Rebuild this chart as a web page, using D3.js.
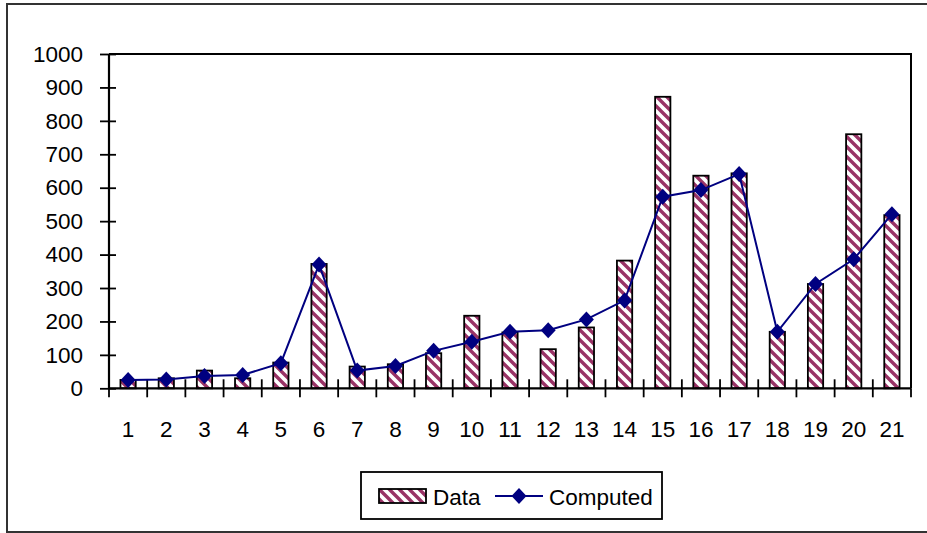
<!DOCTYPE html>
<html>
<head>
<meta charset="utf-8">
<script src="https://cdn.jsdelivr.net/npm/d3@7"></script>
<style>
  html, body { margin: 0; padding: 0; background: #fff; }
  svg { display: block; }
  text { font-family: "Liberation Sans", Arial, sans-serif; fill: #000; }
</style>
</head>
<body>
<svg id="chart" width="927" height="533"></svg>
<script>
// Observed values per sample and the model's computed values
const categories = ["1","2","3","4","5","6","7","8","9","10","11","12","13","14","15","16","17","18","19","20","21"];
const dataValues = [25, 30, 53, 30, 77, 372, 65, 72, 105, 217, 167, 117, 182, 382, 872, 636, 643, 169, 312, 760, 518];
const computedValues = [25, 26, 37, 40, 75, 370, 53, 67, 112, 139, 169, 174, 206, 263, 573, 593, 641, 169, 312, 386, 521];
const yTicks = [0, 100, 200, 300, 400, 500, 600, 700, 800, 900, 1000];
const seriesNames = ["Data", "Computed"];

const svg = d3.select("#chart");
const W = 927, H = 533;
const plot = { left: 109, right: 911, top: 54, bottom: 388.3 };
const fontSize = 22.5;

// Diagonal stripe fill for the bars
const defs = svg.append("defs");
const pat = defs.append("pattern")
  .attr("id", "stripes")
  .attr("patternUnits", "userSpaceOnUse")
  .attr("width", 10).attr("height", 10);
pat.append("rect").attr("width", 10).attr("height", 10).attr("fill", "#fff");
pat.append("path")
  .attr("d", "M-2,-2 L12,12 M-2,8 L2,12 M8,-2 L12,2")
  .attr("stroke", "#993366").attr("stroke-width", 3.4).attr("fill", "none");

// Outer chart frame
svg.append("rect")
  .attr("x", 7).attr("y", 4).attr("width", W + 10).attr("height", 528)
  .attr("fill", "#fff").attr("stroke", "#333").attr("stroke-width", 2);

const x = d3.scaleBand().domain(categories).range([plot.left, plot.right]).paddingInner(0).paddingOuter(0);
const y = d3.scaleLinear().domain([0, 1000]).range([plot.bottom, plot.top]);
const barW = x.bandwidth() / 2.5;

// Plot area border (top and right)
svg.append("path")
  .attr("d", `M${plot.left},${plot.top} H${plot.right} V${plot.bottom}`)
  .attr("fill", "none").attr("stroke", "#000").attr("stroke-width", 2);

// Bars
svg.append("g").selectAll("rect")
  .data(dataValues)
  .join("rect")
  .attr("x", (d, i) => x(categories[i]) + (x.bandwidth() - barW) / 2)
  .attr("y", d => y(d))
  .attr("width", barW)
  .attr("height", d => y(0) - y(d))
  .attr("fill", "url(#stripes)")
  .attr("stroke", "#000").attr("stroke-width", 1.8);

// Y axis (cross ticks)
const yAxis = svg.append("g").attr("transform", `translate(${plot.left},0)`)
  .call(d3.axisLeft(y).tickValues(yTicks).tickSize(0).tickPadding(26).tickFormat(d3.format("d")));
yAxis.select(".domain").remove();
yAxis.selectAll("text").attr("font-size", fontSize).attr("font-family", "Liberation Sans, Arial, sans-serif").attr("fill", "#000");
yAxis.selectAll(".tick").append("line")
  .attr("x1", -9).attr("x2", 7).attr("stroke", "#000").attr("stroke-width", 1.8);
svg.append("line")
  .attr("x1", plot.left).attr("x2", plot.left).attr("y1", plot.top).attr("y2", plot.bottom)
  .attr("stroke", "#000").attr("stroke-width", 2.2);

// X axis (ticks between categories)
const xAxis = svg.append("g").attr("transform", `translate(0,${plot.bottom})`)
  .call(d3.axisBottom(x).tickSize(0).tickPadding(33));
xAxis.select(".domain").remove();
xAxis.selectAll("text").attr("font-size", fontSize).attr("font-family", "Liberation Sans, Arial, sans-serif").attr("fill", "#000");
svg.append("g").selectAll("line")
  .data(d3.range(categories.length + 1))
  .join("line")
  .attr("x1", i => plot.left + i * x.step())
  .attr("x2", i => plot.left + i * x.step())
  .attr("y1", i => (i === 0 || i === categories.length) ? plot.bottom : plot.bottom - 9)
  .attr("y2", plot.bottom + 9)
  .attr("stroke", "#000").attr("stroke-width", 1.8);
svg.append("line")
  .attr("x1", plot.left).attr("x2", plot.right).attr("y1", plot.bottom).attr("y2", plot.bottom)
  .attr("stroke", "#000").attr("stroke-width", 2.2);

// Computed line with diamond markers
const cx = i => x(categories[i]) + x.bandwidth() / 2;
const line = d3.line().x((d, i) => cx(i)).y(d => y(d));
svg.append("path")
  .datum(computedValues)
  .attr("d", line)
  .attr("fill", "none").attr("stroke", "#000080").attr("stroke-width", 2);
const diamond = "M0,-8 L7.5,0 L0,8 L-7.5,0 Z";
svg.append("g").selectAll("path")
  .data(computedValues)
  .join("path")
  .attr("transform", (d, i) => `translate(${cx(i)},${y(d)})`)
  .attr("d", diamond)
  .attr("fill", "#000080");

// Legend
const lg = svg.append("g");
lg.append("rect").attr("x", 361).attr("y", 472).attr("width", 301).attr("height", 47)
  .attr("fill", "#fff").attr("stroke", "#000").attr("stroke-width", 1.8);
lg.append("rect").attr("x", 379).attr("y", 489).attr("width", 47).attr("height", 14)
  .attr("fill", "url(#stripes)").attr("stroke", "#000").attr("stroke-width", 1.8);
lg.append("text").attr("x", 433).attr("y", 504.5).attr("font-size", fontSize).text(seriesNames[0]);
lg.append("line").attr("x1", 495).attr("x2", 543).attr("y1", 496).attr("y2", 496)
  .attr("stroke", "#000080").attr("stroke-width", 2);
lg.append("path").attr("transform", "translate(519,496)").attr("d", diamond).attr("fill", "#000080");
lg.append("text").attr("x", 549).attr("y", 504.5).attr("font-size", fontSize).text(seriesNames[1]);
</script>
</body>
</html>
